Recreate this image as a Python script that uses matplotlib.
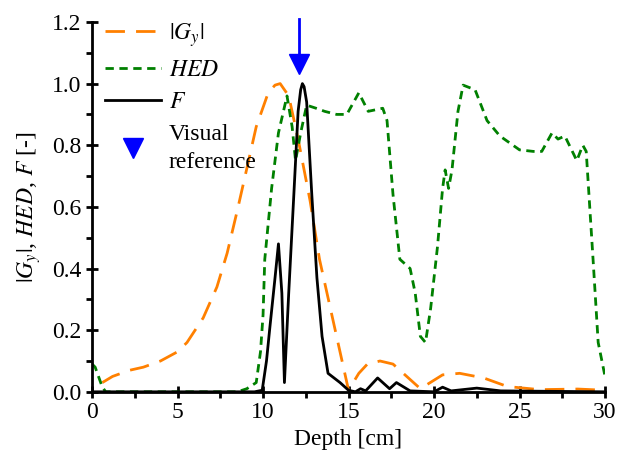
import numpy as np
import matplotlib
matplotlib.use("Agg")
import matplotlib.pyplot as plt
from matplotlib.lines import Line2D
from matplotlib.ticker import MultipleLocator, FormatStrFormatter

# |G_y| profile
gy_depth = [0.6, 1.2, 2.2, 3.0, 4.0, 5.0, 5.55, 6.5, 7.3, 7.9, 8.5, 8.95, 9.6, 10.3, 10.7, 11.0,
            11.5, 12.05, 12.75, 13.3, 13.9, 14.5, 15.0, 15.6, 16.1, 16.84, 17.6, 18.4, 19.2,
            20.5, 21.5, 22.9, 24.3, 26.2, 28.4, 30.0]
gy_value = [0.03, 0.05, 0.07, 0.08, 0.10, 0.13, 0.16, 0.24, 0.34, 0.45, 0.59, 0.70, 0.86, 0.97, 0.995, 1.0,
            0.96, 0.82, 0.62, 0.43, 0.28, 0.13, 0.005, 0.06, 0.09, 0.10, 0.09, 0.05, 0.01,
            0.055, 0.06, 0.045, 0.017, 0.007, 0.009, 0.005]

# HED profile
hed_depth = [0.0, 0.18, 0.6, 0.8, 2.0, 5.0, 8.5, 9.05, 9.6, 9.85, 10.0, 10.1, 10.5, 10.9, 11.4,
             11.7, 11.9, 12.2, 12.55, 13.1, 13.6, 14.3, 14.9, 15.6, 16.15, 17.0, 17.25, 17.6,
             18.0, 18.6, 18.9, 19.2, 19.5, 19.8, 20.2, 20.5, 20.65, 20.85, 21.05, 21.4, 21.7,
             22.4, 23.1, 23.85, 25.0, 25.8, 26.3, 26.9, 27.25, 27.65, 28.35, 28.7, 28.9, 29.3,
             29.6, 30.0]
hed_value = [0.09, 0.08, 0.015, 0.0, 0.0, 0.0, 0.0, 0.01, 0.03, 0.13, 0.25, 0.43, 0.66, 0.84, 0.96,
             0.86, 0.75, 0.84, 0.93, 0.92, 0.91, 0.90, 0.90, 0.97, 0.91, 0.92, 0.88, 0.64,
             0.43, 0.40, 0.32, 0.18, 0.16, 0.27, 0.47, 0.66, 0.72, 0.66, 0.72, 0.91, 0.995,
             0.98, 0.88, 0.83, 0.785, 0.78, 0.78, 0.84, 0.82, 0.83, 0.75, 0.80, 0.78, 0.43,
             0.16, 0.05]

# F profile
f_depth = [0.0, 9.5, 9.95, 10.2, 10.4, 10.7, 10.9, 11.1, 11.25, 11.5, 11.8, 12.05, 12.2, 12.3,
           12.4, 12.55, 12.85, 13.15, 13.45, 13.8, 14.5, 15.0, 15.4, 15.7, 16.0, 16.7, 17.4,
           17.8, 18.6, 20.0, 20.5, 21.0, 22.5, 23.9, 30.0]
f_value = [0.0, 0.0, 0.005, 0.1, 0.21, 0.37, 0.48, 0.32, 0.03, 0.32, 0.64, 0.91, 0.98, 1.0,
           0.99, 0.94, 0.64, 0.37, 0.18, 0.06, 0.03, 0.005, 0.0, 0.01, 0.003, 0.045, 0.01,
           0.03, 0.003, 0.0, 0.015, 0.003, 0.012, 0.003, 0.0]

# visual reference position
ref_depth = 12.1

plt.rcParams['font.family'] = ['Liberation Serif']
plt.rcParams['mathtext.fontset'] = 'stix'
plt.rcParams['font.size'] = 17

fig = plt.figure(figsize=(6.18, 4.67), dpi=100)
ax = fig.add_axes([0.149, 0.161, 0.830, 0.792])

ax.plot(gy_depth, gy_value, color='#ff8000', linewidth=2, dashes=(7, 4))
ax.plot(hed_depth, hed_value, color='#008000', linewidth=2, dashes=(3, 2))
ax.plot(f_depth, f_value, color='black', linewidth=2)

# arrow marking the visual reference
ax.plot([ref_depth, ref_depth], [1.07, 1.21], color='#0000ff', linewidth=2, clip_on=False)
ax.plot([ref_depth], [1.063], marker='v', markersize=14, color='#0000ff', clip_on=False)

ax.set_xlim(0, 30)
ax.set_ylim(0, 1.2)
ax.xaxis.set_major_locator(MultipleLocator(5))
ax.xaxis.set_minor_locator(MultipleLocator(2.5))
ax.yaxis.set_major_locator(MultipleLocator(0.2))
ax.yaxis.set_minor_locator(MultipleLocator(0.1))
ax.yaxis.set_major_formatter(FormatStrFormatter('%.1f'))

for side in ['top', 'right']:
    ax.spines[side].set_visible(False)
for side in ['left', 'bottom']:
    ax.spines[side].set_linewidth(2)
ax.tick_params(which='major', direction='inout', length=8, width=2, labelsize=17)
ax.tick_params(which='minor', direction='out', length=4, width=2)

ax.set_xlabel('Depth [cm]', fontsize=17, labelpad=4)
ax.set_ylabel(r'$|G_y|$, $HED$, $F$ [-]', fontsize=17, labelpad=7)

handles = [
    Line2D([], [], color='#ff8000', linewidth=2, dashes=(7, 4)),
    Line2D([], [], color='#008000', linewidth=2, dashes=(3, 2)),
    Line2D([], [], color='black', linewidth=2),
    Line2D([], [], color='#0000ff', marker='v', markersize=14, linestyle='none'),
]
labels = [r'$|G_y|$', r'$HED$', r'$F$', 'Visual\nreference']
leg = ax.legend(handles, labels, loc='upper left', bbox_to_anchor=(-0.012, 1.053), frameon=False,
                fontsize=17, handlelength=2.4, handletextpad=0.3, labelspacing=0.45,
                borderpad=0.3)
leg.get_texts()[3].set_linespacing(1.45)

fig.savefig('out.png', dpi=100)
